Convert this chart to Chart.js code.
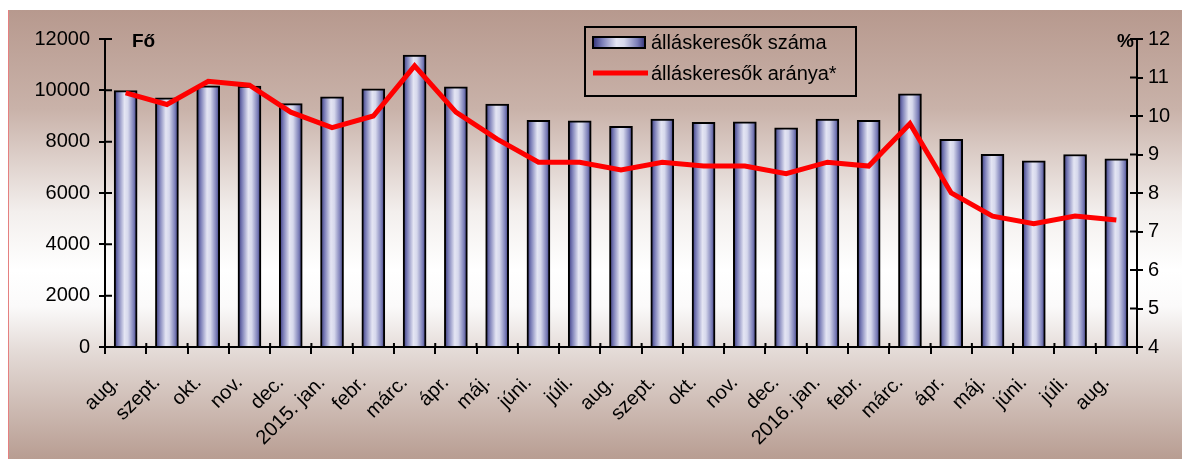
<!DOCTYPE html>
<html lang="hu">
<head>
<meta charset="utf-8">
<title>Álláskeresők száma és aránya</title>
<script src="https://cdn.jsdelivr.net/npm/chart.js@4.4.1/dist/chart.umd.min.js"></script>
<style>
  html, body { margin: 0; padding: 0; background: #fff; }
  canvas { display: block; }
</style>
</head>
<body>
<canvas id="chart" width="1182" height="459"></canvas>
<script>
// Data
const months = ['aug.', 'szept.', 'okt.', 'nov.', 'dec.', '2015. jan.', 'febr.', 'márc.', 'ápr.', 'máj.', 'júni.', 'júli.',
    'aug.', 'szept.', 'okt.', 'nov.', 'dec.', '2016. jan.', 'febr.', 'márc.', 'ápr.', 'máj.', 'júni.', 'júli.', 'aug.'];
const jobSeekers = [9990, 9710, 10180, 10170, 9480, 9750, 10060, 11370, 10140, 9460, 8830, 8810,
    8600, 8880, 8750, 8770, 8540, 8880, 8830, 9860, 8090, 7510, 7250, 7500, 7330];
const jobSeekerRate = [10.6, 10.3, 10.9, 10.8, 10.1, 9.7, 10.0, 11.3, 10.1, 9.4, 8.8, 8.8,
    8.6, 8.8, 8.7, 8.7, 8.5, 8.8, 8.7, 9.8, 8.0, 7.4, 7.2, 7.4, 7.3];
const seriesNames = ['álláskeresők száma', 'álláskeresők aránya*'];
const countAxis = { min: 0, max: 12000, step: 2000, unit: 'Fő' };
const rateAxis = { min: 4, max: 12, step: 1, unit: '%' };

const FONT = "'Liberation Sans', Arial, sans-serif";
const BAR_W = 23;

Chart.defaults.font.family = FONT;
Chart.defaults.color = '#000';

function barGradient(ctx, left, width) {
    const g = ctx.createLinearGradient(left, 0, left + width, 0);
    g.addColorStop(0, '#34347a');
    g.addColorStop(0.18, '#7c7fb8');
    g.addColorStop(0.45, '#e4e5f3');
    g.addColorStop(0.6, '#d6d8ec');
    g.addColorStop(0.85, '#7c7fb8');
    g.addColorStop(1, '#34347a');
    return g;
}

// page background: brown - white - brown fade
const backdrop = {
    id: 'backdrop',
    beforeDraw(chart) {
        const { ctx, width, height } = chart;
        ctx.save();
        ctx.fillStyle = '#fff';
        ctx.fillRect(0, 0, width, height);
        const g = ctx.createLinearGradient(0, 10, 0, height);
        g.addColorStop(0, '#b7998e');
        g.addColorStop(0.22, '#c9b2a9');
        g.addColorStop(0.45, '#f3efed');
        g.addColorStop(0.58, '#ffffff');
        g.addColorStop(0.66, '#fbfafa');
        g.addColorStop(0.76, '#e4dbd7');
        g.addColorStop(1, '#b89d92');
        ctx.fillStyle = g;
        ctx.fillRect(8, 10, width - 8, height - 10);
        ctx.strokeStyle = '#e58080';
        ctx.lineWidth = 1;
        ctx.beginPath();
        ctx.moveTo(8.5, 10);
        ctx.lineTo(8.5, height);
        ctx.stroke();
        ctx.restore();
    }
};

// ticks crossing the axis lines, and the unit labels
const axisExtras = {
    id: 'axisExtras',
    afterDraw(chart) {
        const { ctx, chartArea: a } = chart;
        const { x, y, y2 } = chart.scales;
        ctx.save();
        ctx.strokeStyle = '#000';
        ctx.lineWidth = 2;
        ctx.beginPath();
        y.ticks.forEach((t, i) => {
            const py = y.getPixelForTick(i);
            ctx.moveTo(a.left, py);
            ctx.lineTo(a.left + 7, py);
        });
        y2.ticks.forEach((t, i) => {
            const py = y2.getPixelForTick(i);
            ctx.moveTo(a.right, py);
            ctx.lineTo(a.right - 7, py);
        });
        for (let i = 1; i < months.length; i++) {
            const px = x.getPixelForValue(i - 0.5);
            ctx.moveTo(px, a.bottom);
            ctx.lineTo(px, a.bottom - 4);
        }
        ctx.stroke();

        ctx.fillStyle = '#000';
        ctx.font = 'bold 19px ' + FONT;
        ctx.textBaseline = 'alphabetic';
        ctx.textAlign = 'left';
        ctx.fillText(countAxis.unit, a.left + 27, 47);
        ctx.textAlign = 'right';
        ctx.fillText(rateAxis.unit, a.right - 3, 47);
        ctx.restore();
    }
};

// boxed legend inside the plot
const legendBox = {
    id: 'legendBox',
    afterDraw(chart) {
        const ctx = chart.ctx;
        ctx.save();
        ctx.strokeStyle = '#000';
        ctx.lineWidth = 2;
        ctx.strokeRect(585, 27, 271, 69);

        ctx.fillStyle = barGradient(ctx, 593, 52);
        ctx.fillRect(593, 37, 52, 11);
        ctx.strokeRect(593, 37, 52, 11);

        ctx.strokeStyle = '#ff0000';
        ctx.lineWidth = 5;
        ctx.beginPath();
        ctx.moveTo(593, 73);
        ctx.lineTo(648, 73);
        ctx.stroke();

        ctx.fillStyle = '#000';
        ctx.font = '20px ' + FONT;
        ctx.textBaseline = 'middle';
        ctx.textAlign = 'left';
        ctx.fillText(chart.data.datasets[0].label, 651, 43);
        ctx.fillText(chart.data.datasets[1].label, 651, 74);
        ctx.restore();
    }
};

new Chart(document.getElementById('chart').getContext('2d'), {
    type: 'bar',
    data: {
        labels: months,
        datasets: [{
            type: 'bar',
            label: seriesNames[0],
            data: jobSeekers,
            yAxisID: 'y',
            order: 1,
            barThickness: BAR_W,
            borderColor: '#000',
            borderWidth: 2,
            backgroundColor(c) {
                const xs = c.chart.scales.x;
                if (!xs || c.dataIndex === undefined) return '#a0a2d0';
                const cx = xs.getPixelForValue(c.dataIndex);
                if (!Number.isFinite(cx)) return '#a0a2d0';
                return barGradient(c.chart.ctx, cx - BAR_W / 2, BAR_W);
            }
        }, {
            type: 'line',
            label: seriesNames[1],
            data: jobSeekerRate,
            yAxisID: 'y2',
            order: 0,
            borderColor: '#ff0000',
            borderWidth: 5,
            pointRadius: 0,
            tension: 0,
            fill: false
        }]
    },
    options: {
        responsive: false,
        animation: false,
        layout: { padding: { top: 39, left: 0, right: 0, bottom: 0 } },
        plugins: {
            legend: { display: false },
            tooltip: { enabled: false }
        },
        scales: {
            x: {
                offset: true,
                grid: { offset: true, drawOnChartArea: false, color: '#000', lineWidth: 2, tickLength: 7 },
                border: { color: '#000', width: 2 },
                ticks: { font: { size: 20 }, maxRotation: 45, minRotation: 45, autoSkip: false, padding: 17, labelOffset: -10 },
                afterFit(s) { s.height = 112; }
            },
            y: {
                position: 'left',
                min: countAxis.min,
                max: countAxis.max,
                ticks: { stepSize: countAxis.step, font: { size: 20 }, padding: 9, callback: v => String(v) },
                grid: { drawOnChartArea: false, color: '#000', lineWidth: 2, tickLength: 6 },
                border: { color: '#000', width: 2 },
                afterFit(s) { s.width = 105; }
            },
            y2: {
                position: 'right',
                min: rateAxis.min,
                max: rateAxis.max,
                ticks: { stepSize: rateAxis.step, font: { size: 20 }, padding: 5, callback: v => String(v) },
                grid: { drawOnChartArea: false, color: '#000', lineWidth: 2, tickLength: 6 },
                border: { color: '#000', width: 2 },
                afterFit(s) { s.width = 45; }
            }
        }
    },
    plugins: [backdrop, axisExtras, legendBox]
});
</script>
</body>
</html>
